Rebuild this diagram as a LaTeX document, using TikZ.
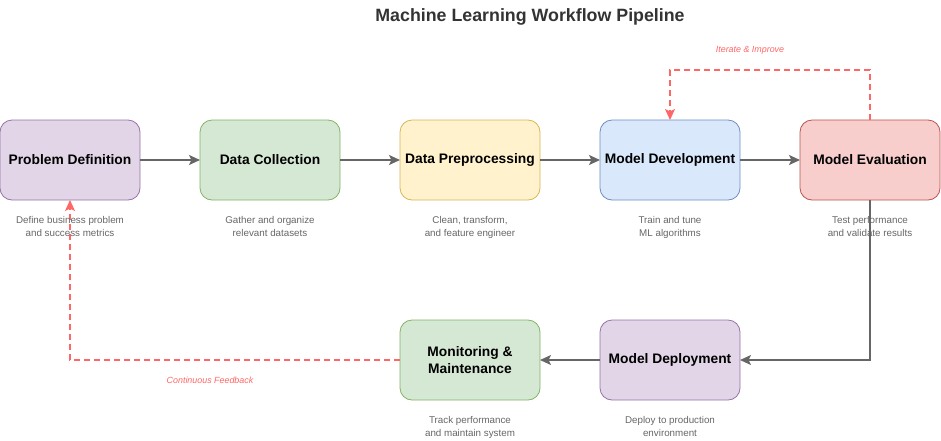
\documentclass[tikz,border=0pt]{standalone}
\usepackage{fontspec}
\setmainfont{Liberation Sans}
\usepackage{tikz}
\usetikzlibrary{positioning,arrows.meta}
\definecolor{purfill}{HTML}{E1D5E7}\definecolor{purline}{HTML}{9673A6}
\definecolor{grnfill}{HTML}{D5E8D4}\definecolor{grnline}{HTML}{82B366}
\definecolor{yelfill}{HTML}{FFF2CC}\definecolor{yelline}{HTML}{D6B656}
\definecolor{blufill}{HTML}{DAE8FC}\definecolor{bluline}{HTML}{6C8EBF}
\definecolor{redfill}{HTML}{F8CECC}\definecolor{redline}{HTML}{B85450}
\definecolor{arrgray}{HTML}{666666}
\definecolor{fbred}{HTML}{FF6666}
\definecolor{titlegray}{HTML}{333333}
\tikzset{stage/.style args={#1/#2}{draw=#2, fill=#1, rounded corners=12pt, line width=0.8pt,
    minimum width=140pt, minimum height=80pt, inner sep=2pt, outer sep=0pt, align=center,
    font=\fontsize{13.8}{17}\selectfont\bfseries}}
\tikzset{note/.style={text=arrgray, align=center, font=\fontsize{9.8}{13}\selectfont}}
\tikzset{arr/.style={draw=arrgray, line width=1.6pt, -{Stealth[length=11pt,width=10pt,inset=2.5pt]}}}
\tikzset{loopback/.style={color=fbred, draw=fbred, line width=1.4pt, dash pattern=on 6pt off 4pt,
    -{Stealth[length=11pt,width=10pt,inset=2.5pt,fill=fbred]}}}
\tikzset{looplabel/.style={text=fbred, font=\fontsize{8.9}{11}\selectfont\itshape}}

\begin{document}
\begin{tikzpicture}[x=1pt, y=-1pt, node distance=60pt]
    \useasboundingbox (0,0) rectangle (941,440);
    \node[font=\fontsize{17.8}{21}\selectfont\bfseries, text=titlegray] (title) at (530,17)
        {Machine Learning Workflow Pipeline};

    % top row
    \node[stage=purfill/purline] (prob) at (70,160) {Problem Definition};
    \node[stage=grnfill/grnline, right=of prob] (collect) {Data Collection};
    \node[stage=yelfill/yelline, right=of collect] (prep) {Data Preprocessing};
    \node[stage=blufill/bluline, right=of prep] (dev) {Model Development};
    \node[stage=redfill/redline, right=of dev] (eval) {Model Evaluation};
    % bottom row
    \node[stage=purfill/purline, below=120pt of dev] (deploy) {Model Deployment};
    \node[stage=grnfill/grnline, left=of deploy] (monitor) {Monitoring \&\\Maintenance};

    \draw[arr] (prob) -- (collect);
    \draw[arr] (collect) -- (prep);
    \draw[arr] (prep) -- (dev);
    \draw[arr] (dev) -- (eval);
    \draw[arr] (eval.south) |- (deploy.east);
    \draw[arr] (deploy) -- (monitor);

    % feedback loops
    \coordinate (itertop) at ([yshift=50pt]eval.north);
    \draw[loopback] (eval.north) -- (itertop) -| (dev.north);
    \draw[loopback] (monitor.west) -| (prob.south);
    \node[looplabel] (iterlbl) at (750,50) {Iterate \& Improve};
    \node[looplabel] (feedlbl) at (210,380) {Continuous Feedback};

    % descriptions
    \node[note, below=12.5pt of prob] (probnote) {Define business problem\\and success metrics};
    \node[note, below=12.5pt of collect] (collectnote) {Gather and organize\\relevant datasets};
    \node[note, below=12.5pt of prep] (prepnote) {Clean, transform,\\and feature engineer};
    \node[note, below=12.5pt of dev] (devnote) {Train and tune\\ML algorithms};
    \node[note, below=12.5pt of eval] (evalnote) {Test performance\\and validate results};
    \node[note, below=12.5pt of monitor] (monitornote) {Track performance\\and maintain system};
    \node[note, below=12.5pt of deploy] (deploynote) {Deploy to production\\environment};
\end{tikzpicture}
\end{document}
